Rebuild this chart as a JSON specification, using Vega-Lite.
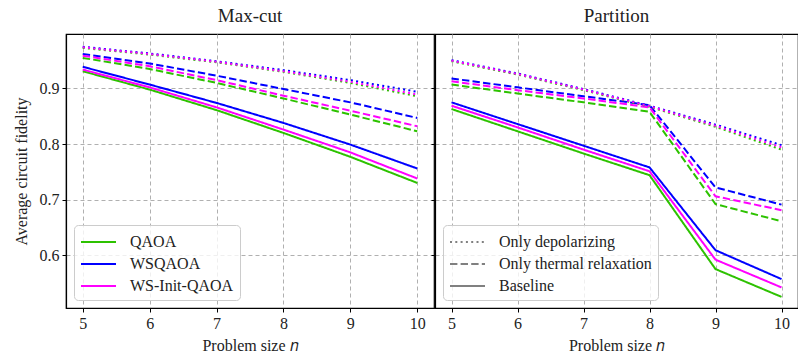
{
  "$schema": "https://vega.github.io/schema/vega-lite/v6.json",
  "padding": {"left": 12, "top": 6, "right": 0, "bottom": 2},
  "config": {
    "font": "Liberation Serif",
    "view": {"stroke": "black", "strokeWidth": 1.2},
    "axis": {
      "labelFont": "Liberation Serif",
      "titleFont": "Liberation Serif",
      "labelFontSize": 16,
      "titleFontSize": 16,
      "titleFontWeight": "normal",
      "labelColor": "#222222",
      "titleColor": "#222222",
      "domainColor": "black",
      "domainWidth": 1.2,
      "tickColor": "black",
      "tickSize": 4,
      "tickWidth": 1,
      "labelPadding": 3,
      "gridColor": "#b0b0b0",
      "gridDash": [4, 3],
      "gridWidth": 1
    },
    "title": {"font": "Liberation Serif", "fontSize": 19, "fontWeight": "normal", "color": "#222222", "offset": 8},
    "legend": {
      "labelFont": "Liberation Serif",
      "labelFontSize": 16,
      "labelColor": "#222222",
      "orient": "bottom-left",
      "offset": 8,
      "fillColor": "rgba(255,255,255,0.8)",
      "strokeColor": "#cccccc",
      "cornerRadius": 4,
      "padding": 6,
      "labelOffset": 28,
      "rowPadding": 3,
      "symbolType": "M-1,0H2.5",
      "symbolSize": 400,
      "symbolStrokeWidth": 2,
      "symbolFillColor": "transparent"
    }
  },
  "datasets": {
    "fidelity": [
      {"problem": "Max-cut", "algorithm": "QAOA", "noise": "Baseline", "n": 5, "fidelity": 0.931},
      {"problem": "Max-cut", "algorithm": "QAOA", "noise": "Baseline", "n": 6, "fidelity": 0.898},
      {"problem": "Max-cut", "algorithm": "QAOA", "noise": "Baseline", "n": 7, "fidelity": 0.861},
      {"problem": "Max-cut", "algorithm": "QAOA", "noise": "Baseline", "n": 8, "fidelity": 0.820},
      {"problem": "Max-cut", "algorithm": "QAOA", "noise": "Baseline", "n": 9, "fidelity": 0.777},
      {"problem": "Max-cut", "algorithm": "QAOA", "noise": "Baseline", "n": 10, "fidelity": 0.730},
      {"problem": "Max-cut", "algorithm": "WSQAOA", "noise": "Baseline", "n": 5, "fidelity": 0.939},
      {"problem": "Max-cut", "algorithm": "WSQAOA", "noise": "Baseline", "n": 6, "fidelity": 0.907},
      {"problem": "Max-cut", "algorithm": "WSQAOA", "noise": "Baseline", "n": 7, "fidelity": 0.874},
      {"problem": "Max-cut", "algorithm": "WSQAOA", "noise": "Baseline", "n": 8, "fidelity": 0.838},
      {"problem": "Max-cut", "algorithm": "WSQAOA", "noise": "Baseline", "n": 9, "fidelity": 0.799},
      {"problem": "Max-cut", "algorithm": "WSQAOA", "noise": "Baseline", "n": 10, "fidelity": 0.756},
      {"problem": "Max-cut", "algorithm": "WS-Init-QAOA", "noise": "Baseline", "n": 5, "fidelity": 0.934},
      {"problem": "Max-cut", "algorithm": "WS-Init-QAOA", "noise": "Baseline", "n": 6, "fidelity": 0.902},
      {"problem": "Max-cut", "algorithm": "WS-Init-QAOA", "noise": "Baseline", "n": 7, "fidelity": 0.866},
      {"problem": "Max-cut", "algorithm": "WS-Init-QAOA", "noise": "Baseline", "n": 8, "fidelity": 0.826},
      {"problem": "Max-cut", "algorithm": "WS-Init-QAOA", "noise": "Baseline", "n": 9, "fidelity": 0.785},
      {"problem": "Max-cut", "algorithm": "WS-Init-QAOA", "noise": "Baseline", "n": 10, "fidelity": 0.738},
      {"problem": "Max-cut", "algorithm": "QAOA", "noise": "Only thermal relaxation", "n": 5, "fidelity": 0.955},
      {"problem": "Max-cut", "algorithm": "QAOA", "noise": "Only thermal relaxation", "n": 6, "fidelity": 0.935},
      {"problem": "Max-cut", "algorithm": "QAOA", "noise": "Only thermal relaxation", "n": 7, "fidelity": 0.910},
      {"problem": "Max-cut", "algorithm": "QAOA", "noise": "Only thermal relaxation", "n": 8, "fidelity": 0.882},
      {"problem": "Max-cut", "algorithm": "QAOA", "noise": "Only thermal relaxation", "n": 9, "fidelity": 0.853},
      {"problem": "Max-cut", "algorithm": "QAOA", "noise": "Only thermal relaxation", "n": 10, "fidelity": 0.823},
      {"problem": "Max-cut", "algorithm": "WSQAOA", "noise": "Only thermal relaxation", "n": 5, "fidelity": 0.962},
      {"problem": "Max-cut", "algorithm": "WSQAOA", "noise": "Only thermal relaxation", "n": 6, "fidelity": 0.945},
      {"problem": "Max-cut", "algorithm": "WSQAOA", "noise": "Only thermal relaxation", "n": 7, "fidelity": 0.923},
      {"problem": "Max-cut", "algorithm": "WSQAOA", "noise": "Only thermal relaxation", "n": 8, "fidelity": 0.899},
      {"problem": "Max-cut", "algorithm": "WSQAOA", "noise": "Only thermal relaxation", "n": 9, "fidelity": 0.875},
      {"problem": "Max-cut", "algorithm": "WSQAOA", "noise": "Only thermal relaxation", "n": 10, "fidelity": 0.847},
      {"problem": "Max-cut", "algorithm": "WS-Init-QAOA", "noise": "Only thermal relaxation", "n": 5, "fidelity": 0.959},
      {"problem": "Max-cut", "algorithm": "WS-Init-QAOA", "noise": "Only thermal relaxation", "n": 6, "fidelity": 0.940},
      {"problem": "Max-cut", "algorithm": "WS-Init-QAOA", "noise": "Only thermal relaxation", "n": 7, "fidelity": 0.915},
      {"problem": "Max-cut", "algorithm": "WS-Init-QAOA", "noise": "Only thermal relaxation", "n": 8, "fidelity": 0.887},
      {"problem": "Max-cut", "algorithm": "WS-Init-QAOA", "noise": "Only thermal relaxation", "n": 9, "fidelity": 0.860},
      {"problem": "Max-cut", "algorithm": "WS-Init-QAOA", "noise": "Only thermal relaxation", "n": 10, "fidelity": 0.832},
      {"problem": "Max-cut", "algorithm": "QAOA", "noise": "Only depolarizing", "n": 5, "fidelity": 0.973},
      {"problem": "Max-cut", "algorithm": "QAOA", "noise": "Only depolarizing", "n": 6, "fidelity": 0.961},
      {"problem": "Max-cut", "algorithm": "QAOA", "noise": "Only depolarizing", "n": 7, "fidelity": 0.947},
      {"problem": "Max-cut", "algorithm": "QAOA", "noise": "Only depolarizing", "n": 8, "fidelity": 0.930},
      {"problem": "Max-cut", "algorithm": "QAOA", "noise": "Only depolarizing", "n": 9, "fidelity": 0.910},
      {"problem": "Max-cut", "algorithm": "QAOA", "noise": "Only depolarizing", "n": 10, "fidelity": 0.886},
      {"problem": "Max-cut", "algorithm": "WSQAOA", "noise": "Only depolarizing", "n": 5, "fidelity": 0.975},
      {"problem": "Max-cut", "algorithm": "WSQAOA", "noise": "Only depolarizing", "n": 6, "fidelity": 0.963},
      {"problem": "Max-cut", "algorithm": "WSQAOA", "noise": "Only depolarizing", "n": 7, "fidelity": 0.949},
      {"problem": "Max-cut", "algorithm": "WSQAOA", "noise": "Only depolarizing", "n": 8, "fidelity": 0.933},
      {"problem": "Max-cut", "algorithm": "WSQAOA", "noise": "Only depolarizing", "n": 9, "fidelity": 0.915},
      {"problem": "Max-cut", "algorithm": "WSQAOA", "noise": "Only depolarizing", "n": 10, "fidelity": 0.894},
      {"problem": "Max-cut", "algorithm": "WS-Init-QAOA", "noise": "Only depolarizing", "n": 5, "fidelity": 0.974},
      {"problem": "Max-cut", "algorithm": "WS-Init-QAOA", "noise": "Only depolarizing", "n": 6, "fidelity": 0.962},
      {"problem": "Max-cut", "algorithm": "WS-Init-QAOA", "noise": "Only depolarizing", "n": 7, "fidelity": 0.948},
      {"problem": "Max-cut", "algorithm": "WS-Init-QAOA", "noise": "Only depolarizing", "n": 8, "fidelity": 0.931},
      {"problem": "Max-cut", "algorithm": "WS-Init-QAOA", "noise": "Only depolarizing", "n": 9, "fidelity": 0.912},
      {"problem": "Max-cut", "algorithm": "WS-Init-QAOA", "noise": "Only depolarizing", "n": 10, "fidelity": 0.889},
      {"problem": "Partition", "algorithm": "QAOA", "noise": "Baseline", "n": 5, "fidelity": 0.863},
      {"problem": "Partition", "algorithm": "QAOA", "noise": "Baseline", "n": 6, "fidelity": 0.823},
      {"problem": "Partition", "algorithm": "QAOA", "noise": "Baseline", "n": 7, "fidelity": 0.783},
      {"problem": "Partition", "algorithm": "QAOA", "noise": "Baseline", "n": 8, "fidelity": 0.744},
      {"problem": "Partition", "algorithm": "QAOA", "noise": "Baseline", "n": 9, "fidelity": 0.575},
      {"problem": "Partition", "algorithm": "QAOA", "noise": "Baseline", "n": 10, "fidelity": 0.525},
      {"problem": "Partition", "algorithm": "WSQAOA", "noise": "Baseline", "n": 5, "fidelity": 0.875},
      {"problem": "Partition", "algorithm": "WSQAOA", "noise": "Baseline", "n": 6, "fidelity": 0.836},
      {"problem": "Partition", "algorithm": "WSQAOA", "noise": "Baseline", "n": 7, "fidelity": 0.797},
      {"problem": "Partition", "algorithm": "WSQAOA", "noise": "Baseline", "n": 8, "fidelity": 0.758},
      {"problem": "Partition", "algorithm": "WSQAOA", "noise": "Baseline", "n": 9, "fidelity": 0.609},
      {"problem": "Partition", "algorithm": "WSQAOA", "noise": "Baseline", "n": 10, "fidelity": 0.557},
      {"problem": "Partition", "algorithm": "WS-Init-QAOA", "noise": "Baseline", "n": 5, "fidelity": 0.869},
      {"problem": "Partition", "algorithm": "WS-Init-QAOA", "noise": "Baseline", "n": 6, "fidelity": 0.830},
      {"problem": "Partition", "algorithm": "WS-Init-QAOA", "noise": "Baseline", "n": 7, "fidelity": 0.790},
      {"problem": "Partition", "algorithm": "WS-Init-QAOA", "noise": "Baseline", "n": 8, "fidelity": 0.751},
      {"problem": "Partition", "algorithm": "WS-Init-QAOA", "noise": "Baseline", "n": 9, "fidelity": 0.592},
      {"problem": "Partition", "algorithm": "WS-Init-QAOA", "noise": "Baseline", "n": 10, "fidelity": 0.542},
      {"problem": "Partition", "algorithm": "QAOA", "noise": "Only thermal relaxation", "n": 5, "fidelity": 0.907},
      {"problem": "Partition", "algorithm": "QAOA", "noise": "Only thermal relaxation", "n": 6, "fidelity": 0.891},
      {"problem": "Partition", "algorithm": "QAOA", "noise": "Only thermal relaxation", "n": 7, "fidelity": 0.875},
      {"problem": "Partition", "algorithm": "QAOA", "noise": "Only thermal relaxation", "n": 8, "fidelity": 0.858},
      {"problem": "Partition", "algorithm": "QAOA", "noise": "Only thermal relaxation", "n": 9, "fidelity": 0.692},
      {"problem": "Partition", "algorithm": "QAOA", "noise": "Only thermal relaxation", "n": 10, "fidelity": 0.661},
      {"problem": "Partition", "algorithm": "WSQAOA", "noise": "Only thermal relaxation", "n": 5, "fidelity": 0.918},
      {"problem": "Partition", "algorithm": "WSQAOA", "noise": "Only thermal relaxation", "n": 6, "fidelity": 0.902},
      {"problem": "Partition", "algorithm": "WSQAOA", "noise": "Only thermal relaxation", "n": 7, "fidelity": 0.886},
      {"problem": "Partition", "algorithm": "WSQAOA", "noise": "Only thermal relaxation", "n": 8, "fidelity": 0.870},
      {"problem": "Partition", "algorithm": "WSQAOA", "noise": "Only thermal relaxation", "n": 9, "fidelity": 0.722},
      {"problem": "Partition", "algorithm": "WSQAOA", "noise": "Only thermal relaxation", "n": 10, "fidelity": 0.691},
      {"problem": "Partition", "algorithm": "WS-Init-QAOA", "noise": "Only thermal relaxation", "n": 5, "fidelity": 0.913},
      {"problem": "Partition", "algorithm": "WS-Init-QAOA", "noise": "Only thermal relaxation", "n": 6, "fidelity": 0.897},
      {"problem": "Partition", "algorithm": "WS-Init-QAOA", "noise": "Only thermal relaxation", "n": 7, "fidelity": 0.882},
      {"problem": "Partition", "algorithm": "WS-Init-QAOA", "noise": "Only thermal relaxation", "n": 8, "fidelity": 0.866},
      {"problem": "Partition", "algorithm": "WS-Init-QAOA", "noise": "Only thermal relaxation", "n": 9, "fidelity": 0.706},
      {"problem": "Partition", "algorithm": "WS-Init-QAOA", "noise": "Only thermal relaxation", "n": 10, "fidelity": 0.681},
      {"problem": "Partition", "algorithm": "QAOA", "noise": "Only depolarizing", "n": 5, "fidelity": 0.949},
      {"problem": "Partition", "algorithm": "QAOA", "noise": "Only depolarizing", "n": 6, "fidelity": 0.925},
      {"problem": "Partition", "algorithm": "QAOA", "noise": "Only depolarizing", "n": 7, "fidelity": 0.897},
      {"problem": "Partition", "algorithm": "QAOA", "noise": "Only depolarizing", "n": 8, "fidelity": 0.867},
      {"problem": "Partition", "algorithm": "QAOA", "noise": "Only depolarizing", "n": 9, "fidelity": 0.831},
      {"problem": "Partition", "algorithm": "QAOA", "noise": "Only depolarizing", "n": 10, "fidelity": 0.790},
      {"problem": "Partition", "algorithm": "WSQAOA", "noise": "Only depolarizing", "n": 5, "fidelity": 0.951},
      {"problem": "Partition", "algorithm": "WSQAOA", "noise": "Only depolarizing", "n": 6, "fidelity": 0.927},
      {"problem": "Partition", "algorithm": "WSQAOA", "noise": "Only depolarizing", "n": 7, "fidelity": 0.899},
      {"problem": "Partition", "algorithm": "WSQAOA", "noise": "Only depolarizing", "n": 8, "fidelity": 0.869},
      {"problem": "Partition", "algorithm": "WSQAOA", "noise": "Only depolarizing", "n": 9, "fidelity": 0.835},
      {"problem": "Partition", "algorithm": "WSQAOA", "noise": "Only depolarizing", "n": 10, "fidelity": 0.798},
      {"problem": "Partition", "algorithm": "WS-Init-QAOA", "noise": "Only depolarizing", "n": 5, "fidelity": 0.950},
      {"problem": "Partition", "algorithm": "WS-Init-QAOA", "noise": "Only depolarizing", "n": 6, "fidelity": 0.926},
      {"problem": "Partition", "algorithm": "WS-Init-QAOA", "noise": "Only depolarizing", "n": 7, "fidelity": 0.898},
      {"problem": "Partition", "algorithm": "WS-Init-QAOA", "noise": "Only depolarizing", "n": 8, "fidelity": 0.868},
      {"problem": "Partition", "algorithm": "WS-Init-QAOA", "noise": "Only depolarizing", "n": 9, "fidelity": 0.833},
      {"problem": "Partition", "algorithm": "WS-Init-QAOA", "noise": "Only depolarizing", "n": 10, "fidelity": 0.794}
    ]
  },
  "spacing": -7,
  "resolve": {"legend": {"color": "independent", "strokeDash": "independent"}},
  "hconcat": [
    {
      "title": "Max-cut",
      "width": 368,
      "height": 274,
      "data": {"name": "fidelity"},
      "transform": [{"filter": "datum.problem === 'Max-cut'"}],
      "mark": {"type": "line", "strokeWidth": 2, "clip": true},
      "encoding": {
        "x": {
          "field": "n", "type": "quantitative",
          "scale": {"domain": [4.75, 10.25], "nice": false, "zero": false},
          "axis": {"values": [5, 6, 7, 8, 9, 10], "format": "d", "title": "Problem size 𝑛", "titlePadding": 6}
        },
        "y": {
          "field": "fidelity", "type": "quantitative",
          "scale": {"domain": [0.505, 0.998], "nice": false, "zero": false},
          "axis": {"values": [0.6, 0.7, 0.8, 0.9], "format": ".1f", "title": "Average circuit fidelity", "titlePadding": 10}
        },
        "color": {
          "field": "algorithm", "type": "nominal",
          "scale": {"domain": ["QAOA", "WSQAOA", "WS-Init-QAOA"], "range": ["#2dc200", "#0000ff", "#ff00ff"]},
          "legend": {"title": null}
        },
        "strokeDash": {
          "field": "noise", "type": "nominal",
          "scale": {"domain": ["Only depolarizing", "Only thermal relaxation", "Baseline"], "range": [[2, 3.3], [7.4, 3.2], [1, 0]]},
          "legend": null
        }
      }
    },
    {
      "title": "Partition",
      "width": 363,
      "height": 274,
      "data": {"name": "fidelity"},
      "transform": [{"filter": "datum.problem === 'Partition'"}],
      "mark": {"type": "line", "strokeWidth": 2, "clip": true},
      "encoding": {
        "x": {
          "field": "n", "type": "quantitative",
          "scale": {"domain": [4.75, 10.25], "nice": false, "zero": false},
          "axis": {"values": [5, 6, 7, 8, 9, 10], "format": "d", "title": "Problem size 𝑛", "titlePadding": 6}
        },
        "y": {
          "field": "fidelity", "type": "quantitative",
          "scale": {"domain": [0.505, 0.998], "nice": false, "zero": false},
          "axis": {"values": [0.6, 0.7, 0.8, 0.9], "labels": false, "title": null}
        },
        "color": {
          "field": "algorithm", "type": "nominal",
          "scale": {"domain": ["QAOA", "WSQAOA", "WS-Init-QAOA"], "range": ["#2dc200", "#0000ff", "#ff00ff"]},
          "legend": null
        },
        "strokeDash": {
          "field": "noise", "type": "nominal",
          "scale": {"domain": ["Only depolarizing", "Only thermal relaxation", "Baseline"], "range": [[2, 3.3], [7.4, 3.2], [1, 0]]},
          "legend": {"title": null, "symbolStrokeColor": "#808080"}
        }
      }
    }
  ]
}
